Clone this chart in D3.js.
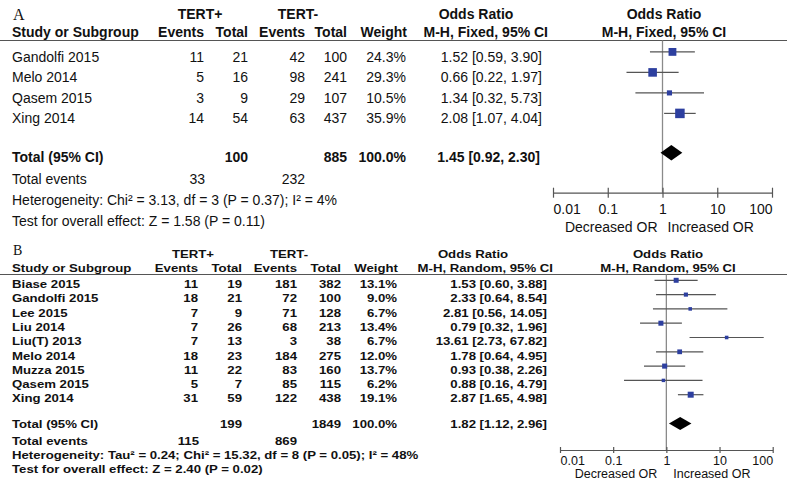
<!DOCTYPE html>
<html>
<head>
<meta charset="utf-8">
<script src="https://cdn.jsdelivr.net/npm/d3@7"></script>
<style>
  body { margin: 0; background: #fff; }
  svg { display: block; }
</style>
</head>
<body>
<div id="chart"></div>
<script>
// ---------- panel A data ----------
const studiesA = ["Gandolfi 2015", "Melo 2014", "Qasem 2015", "Xing 2014"];
const posEventsA = [11, 5, 3, 14];
const posTotalA = [21, 16, 9, 54];
const negEventsA = [42, 98, 29, 63];
const negTotalA = [100, 241, 107, 437];
const weightA = [24.3, 29.3, 10.5, 35.9];
const orA = [1.52, 0.66, 1.34, 2.08];
const loA = [0.59, 0.22, 0.32, 1.07];
const hiA = [3.90, 1.97, 5.73, 4.04];
const totalA = { pos: 100, neg: 885, posEv: 33, negEv: 232, or: 1.45, lo: 0.92, hi: 2.30 };
const hetA = "Heterogeneity: Chi² = 3.13, df = 3 (P = 0.37); I² = 4%";
const testA = "Test for overall effect: Z = 1.58 (P = 0.11)";

// ---------- panel B data ----------
const studiesB = ["Biase 2015", "Gandolfi 2015", "Lee 2015", "Liu 2014", "Liu(T) 2013",
  "Melo 2014", "Muzza 2015", "Qasem 2015", "Xing 2014"];
const posEventsB = [11, 18, 7, 7, 7, 18, 11, 5, 31];
const posTotalB = [19, 21, 9, 26, 13, 23, 22, 7, 59];
const negEventsB = [181, 72, 71, 68, 3, 184, 83, 85, 122];
const negTotalB = [382, 100, 128, 213, 38, 275, 160, 115, 438];
const weightB = [13.1, 9.0, 6.7, 13.4, 6.7, 12.0, 13.7, 6.2, 19.1];
const orB = [1.53, 2.33, 2.81, 0.79, 13.61, 1.78, 0.93, 0.88, 2.87];
const loB = [0.60, 0.64, 0.56, 0.32, 2.73, 0.64, 0.38, 0.16, 1.65];
const hiB = [3.88, 8.54, 14.05, 1.96, 67.82, 4.95, 2.26, 4.79, 4.98];
const totalB = { pos: 199, neg: 1849, posEv: 115, negEv: 869, or: 1.82, lo: 1.12, hi: 2.96 };
const hetB = "Heterogeneity: Tau² = 0.24; Chi² = 15.32, df = 8 (P = 0.05); I² = 48%";
const testB = "Test for overall effect: Z = 2.40 (P = 0.02)";

const axisTicks = [0.01, 0.1, 1, 10, 100];

const W = 787, H = 481;
const svg = d3.select("#chart").append("svg")
  .attr("width", W)
  .attr("height", H);

const fmt2 = d3.format(".2f");
const fmtW = d => d3.format(".1f")(d) + "%";
const ciText = (o, l, h) => `${fmt2(o)} [${fmt2(l)}, ${fmt2(h)}]`;

// text helper: sx stretches horizontally around the anchor point
function txt(g, x, y, s, o) {
  o = o || {};
  return g.append("text")
    .attr("transform", `translate(${x},${y}) scale(${o.sx || 1},1)`)
    .attr("text-anchor", o.anchor || "start")
    .attr("font-family", o.family || "Arial, 'Liberation Sans', sans-serif")
    .attr("font-size", o.size || 14)
    .attr("font-weight", o.weight || "normal")
    .attr("fill", "#111")
    .text(s);
}

function drawPanel(cfg) {
  const g = svg.append("g");
  const f = { size: cfg.size, sx: cfg.sx, weight: cfg.bodyWeight };
  const fb = { size: cfg.size, sx: cfg.sx, weight: "bold" };
  const c = cfg.cols;

  // panel letter
  txt(g, 13, cfg.yHead1 + cfg.letterDy, cfg.letter, { family: "'Liberation Serif', 'Times New Roman', serif", size: cfg.letterSize });

  // header row 1
  txt(g, c.tpCenter, cfg.yHead1, "TERT+", { ...fb, anchor: "middle" });
  txt(g, c.tnCenter, cfg.yHead1, "TERT-", { ...fb, anchor: "middle" });
  txt(g, c.orCenter, cfg.yHead1, "Odds Ratio", { ...fb, anchor: "middle" });
  txt(g, c.plotCenter, cfg.yHead1, "Odds Ratio", { ...fb, anchor: "middle" });

  // header row 2
  txt(g, 12, cfg.yHead2, "Study or Subgroup", fb);
  txt(g, c.tpEv, cfg.yHead2, "Events", { ...fb, anchor: "end" });
  txt(g, c.tpTot, cfg.yHead2, "Total", { ...fb, anchor: "end" });
  txt(g, c.tnEv, cfg.yHead2, "Events", { ...fb, anchor: "end" });
  txt(g, c.tnTot, cfg.yHead2, "Total", { ...fb, anchor: "end" });
  txt(g, c.weight + 1, cfg.yHead2, "Weight", { ...fb, anchor: "end" });
  txt(g, c.orHeadEnd, cfg.yHead2, cfg.method, { ...fb, anchor: "end" });
  txt(g, c.plotCenter, cfg.yHead2, cfg.method, { ...fb, anchor: "middle" });

  g.append("line")
    .attr("x1", 0).attr("x2", W)
    .attr("y1", cfg.yRule).attr("y2", cfg.yRule)
    .attr("stroke", "#555").attr("stroke-width", 1.2);

  // rows
  const y = d3.scaleLinear().domain([0, 1]).range([cfg.yRow0, cfg.yRow0 + cfg.rowStep]);
  cfg.studies.forEach((s, i) => {
    const yy = y(i);
    txt(g, 12, yy, s, f);
    txt(g, c.tpEv, yy, cfg.posEv[i], { ...f, anchor: "end" });
    txt(g, c.tpTot, yy, cfg.posTot[i], { ...f, anchor: "end" });
    txt(g, c.tnEv, yy, cfg.negEv[i], { ...f, anchor: "end" });
    txt(g, c.tnTot, yy, cfg.negTot[i], { ...f, anchor: "end" });
    txt(g, c.weight, yy, fmtW(cfg.weight[i]), { ...f, anchor: "end" });
    txt(g, c.orEnd, yy, ciText(cfg.or[i], cfg.lo[i], cfg.hi[i]), { ...f, anchor: "end" });
  });

  // totals
  const t = cfg.total;
  txt(g, 12, cfg.yTotal, "Total (95% CI)", fb);
  txt(g, c.tpTot, cfg.yTotal, t.pos, { ...fb, anchor: "end" });
  txt(g, c.tnTot, cfg.yTotal, t.neg, { ...fb, anchor: "end" });
  txt(g, c.weight, cfg.yTotal, "100.0%", { ...fb, anchor: "end" });
  txt(g, c.orEnd - cfg.totOrShift, cfg.yTotal, ciText(t.or, t.lo, t.hi), { ...fb, anchor: "end" });

  txt(g, 12, cfg.yTotEv, "Total events", f);
  txt(g, c.tpEv + 1, cfg.yTotEv, t.posEv, { ...f, anchor: "end" });
  txt(g, c.tnEv, cfg.yTotEv, t.negEv, { ...f, anchor: "end" });
  txt(g, 12, cfg.yHet, cfg.het, f);
  txt(g, 12, cfg.yTest, cfg.test, f);

  // forest plot
  const x = d3.scaleLog().domain([0.01, 100]).range(cfg.xRange);
  const sz = d3.scaleSqrt().domain([0, d3.max(cfg.weight)]).range([0, cfg.maxBox]);

  g.append("line")
    .attr("x1", x(1)).attr("x2", x(1))
    .attr("y1", cfg.yRule).attr("y2", cfg.yAxis)
    .attr("stroke", "#8a8a8a").attr("stroke-width", 1.3);

  const rows = g.append("g");
  cfg.studies.forEach((s, i) => {
    const cy = y(i) - cfg.boxDy;
    rows.append("line")
      .attr("x1", x(cfg.lo[i])).attr("x2", x(cfg.hi[i]))
      .attr("y1", cy).attr("y2", cy)
      .attr("stroke", "#555").attr("stroke-width", 1.2);
    const b = sz(cfg.weight[i]);
    rows.append("rect")
      .attr("x", x(cfg.or[i]) - b / 2).attr("y", cy - b / 2)
      .attr("width", b).attr("height", b)
      .attr("fill", "#2d3f9f");
  });

  const dy = cfg.yTotal - cfg.diaDy;
  g.append("path")
    .attr("d", `M${x(t.lo)},${dy} L${x(t.or)},${dy - cfg.diaH} L${x(t.hi)},${dy} L${x(t.or)},${dy + cfg.diaH} Z`)
    .attr("fill", "#000");

  const ax = g.append("g")
    .attr("transform", `translate(0,${cfg.yAxis})`)
    .call(d3.axisBottom(x).tickValues(axisTicks).tickSizeOuter(0).tickFormat(d => String(d)));
  ax.select(".domain").attr("stroke", "#555").attr("stroke-width", 1.2);
  ax.selectAll(".tick line").attr("y1", -cfg.tickLen).attr("y2", cfg.tickLen)
    .attr("stroke", "#555").attr("stroke-width", 1.2);
  ax.selectAll(".tick text")
    .attr("y", cfg.tickLabelDy).attr("dy", null)
    .attr("font-family", "Arial, 'Liberation Sans', sans-serif")
    .attr("font-size", cfg.axisSize)
    .attr("fill", "#111")
    .attr("text-anchor", (d, i) => i === 0 ? "start" : (i === axisTicks.length - 1 ? "end" : "middle"));

  txt(g, x(1) - cfg.favGap[0], cfg.yFav, "Decreased OR", { size: cfg.favSize || cfg.axisSize, anchor: "end" });
  txt(g, x(1) + cfg.favGap[1], cfg.yFav, "Increased OR", { size: cfg.favSize || cfg.axisSize });
}

drawPanel({
  letter: "A", letterSize: 16, letterDy: 1,
  size: 14, sx: 1, bodyWeight: "normal",
  method: "M-H, Fixed, 95% CI",
  studies: studiesA, posEv: posEventsA, posTot: posTotalA, negEv: negEventsA, negTot: negTotalA,
  weight: weightA, or: orA, lo: loA, hi: hiA, total: totalA, het: hetA, test: testA,
  cols: { tpCenter: 200, tnCenter: 298, orCenter: 476, plotCenter: 664,
    tpEv: 204, tpTot: 248, tnEv: 305, tnTot: 347, weight: 406, orEnd: 542, orHeadEnd: 548 },
  yHead1: 19, yHead2: 37, yRule: 40.5, yRow0: 61.5, rowStep: 20.5,
  yTotal: 162, yTotEv: 184, yHet: 205, yTest: 225.5, totOrShift: 2,
  xRange: [553, 772], maxBox: 9.5, boxDy: 9.6, diaDy: 9.2, diaH: 7.8,
  yAxis: 192.7, tickLen: 5, tickLabelDy: 21.3, axisSize: 14,
  yFav: 231.5, favGap: [5, 5]
});

drawPanel({
  letter: "B", letterSize: 14, letterDy: -3,
  size: 11, sx: 1.2, bodyWeight: "bold",
  method: "M-H, Random, 95% CI",
  studies: studiesB, posEv: posEventsB, posTot: posTotalB, negEv: negEventsB, negTot: negTotalB,
  weight: weightB, or: orB, lo: loB, hi: hiB, total: totalB, het: hetB, test: testB,
  cols: { tpCenter: 193, tnCenter: 289, orCenter: 473, plotCenter: 668,
    tpEv: 198, tpTot: 242, tnEv: 297, tnTot: 341, weight: 397, orEnd: 547, orHeadEnd: 553 },
  yHead1: 258, yHead2: 272, yRule: 274.5, yRow0: 288, rowStep: 14.3,
  yTotal: 428, yTotEv: 445, yHet: 459, yTest: 473, totOrShift: 0,
  xRange: [560, 772.7], maxBox: 6, boxDy: 7.7, diaDy: 4.5, diaH: 6.5,
  yAxis: 450, tickLen: 3, tickLabelDy: 14.5, axisSize: 12.5, favSize: 12.5,
  yFav: 478.3, favGap: [9, 7]
});
</script>
</body>
</html>
